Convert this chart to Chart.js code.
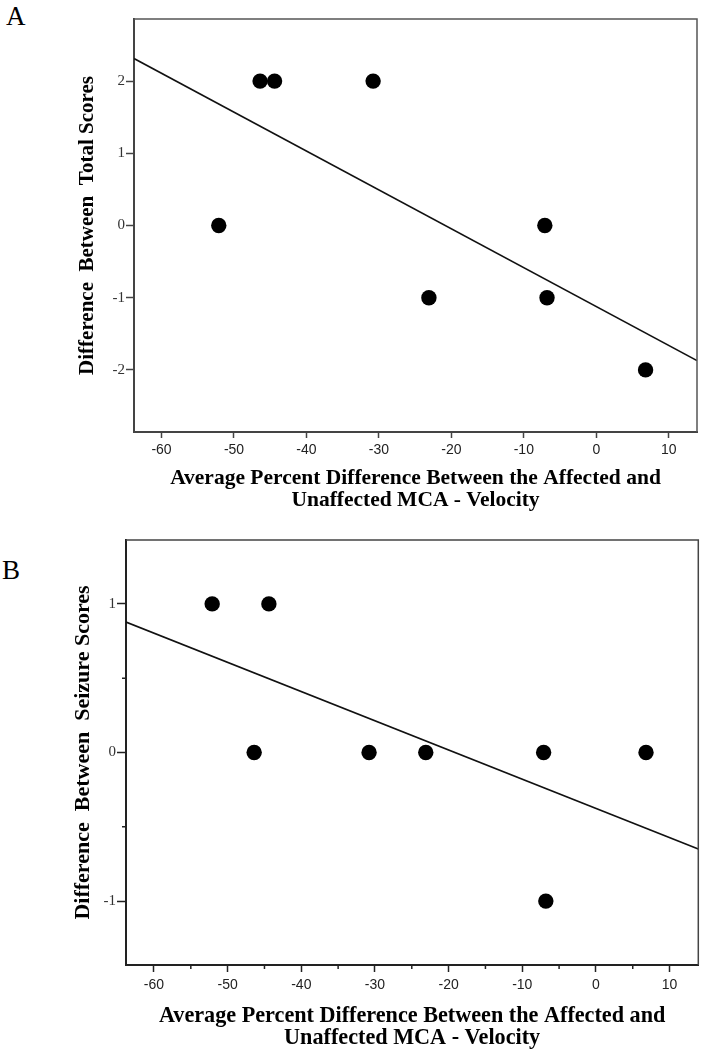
<!DOCTYPE html>
<html><head><meta charset="utf-8">
<script src="https://cdn.jsdelivr.net/npm/chart.js@4/dist/chart.umd.min.js"></script>
<style>
html,body{margin:0;padding:0;background:#fff;}
body{width:706px;height:1050px;position:relative;overflow:hidden;}
.panel{position:absolute;left:0;width:706px;height:520px;}
.lbl{position:absolute;font-family:"Liberation Serif",serif;font-size:27px;color:#000;line-height:1;}
</style></head><body>
<div class="lbl" style="left:6px;top:3px;">A</div>
<div class="lbl" style="left:2px;top:557px;">B</div>
<div class="panel" style="top:0"><canvas id="cA" width="706" height="520"></canvas></div>
<div class="panel" style="top:530px"><canvas id="cB" width="706" height="520"></canvas></div>
<script>
// ---- data ----
const velocityDiff     = [-52.1, -46.4, -44.4, -30.8, -23.1, -7.1, -6.8, 6.8];
const totalScoreDiff   = [0, 2, 2, 2, -1, 0, -1, -2];
const seizureScoreDiff = [1, 0, 1, 0, 0, 0, -1, 0];
const xRange  = [-63.8, 13.9];
const yRangeA = [-2.86, 2.86];
const yRangeB = [-1.43, 1.43];
const xMinorB = [-55, -45, -35, -25, -15, -5, 5];
const yMinorB = [-0.5, 0.5];
const xTitle  = ['Average Percent Difference Between the Affected and', 'Unaffected MCA - Velocity'];
const yTitleA = 'Difference  Between  Total Scores';
const yTitleB = 'Difference  Between  Seizure Scores';

function olsLine(xs, ys, x0, x1) {
  const n = xs.length;
  const mx = xs.reduce((a, b) => a + b, 0) / n;
  const my = ys.reduce((a, b) => a + b, 0) / n;
  let sxy = 0, sxx = 0;
  for (let i = 0; i < n; i++) { sxy += (xs[i] - mx) * (ys[i] - my); sxx += (xs[i] - mx) ** 2; }
  const b = sxy / sxx, a = my - b * mx;
  return [{x: x0, y: a + b * x0}, {x: x1, y: a + b * x1}];
}

const framePlugin = {
  id: 'frame',
  afterDraw(chart, args, opts) {
    const {ctx, chartArea: c} = chart;
    ctx.save();
    ctx.strokeStyle = opts.color; ctx.lineWidth = opts.width;
    ctx.beginPath();
    ctx.moveTo(c.left, c.top); ctx.lineTo(c.right, c.top); ctx.lineTo(c.right, c.bottom);
    ctx.stroke();
    if (opts.minorX) {
      const sx = chart.scales.x, sy = chart.scales.y;
      ctx.strokeStyle = opts.tickColor; ctx.lineWidth = 1.5;
      ctx.beginPath();
      opts.minorX.forEach(v => { const p = sx.getPixelForValue(v); ctx.moveTo(p, c.bottom); ctx.lineTo(p, c.bottom + opts.minorLen); });
      opts.minorY.forEach(v => { const p = sy.getPixelForValue(v); ctx.moveTo(c.left, p); ctx.lineTo(c.left - opts.minorLen, p); });
      ctx.stroke();
    }
    ctx.restore();
  }
};

function makeChart(id, ys, yRange, yTitle, o) {
  const pts = velocityDiff.map((x, i) => ({x, y: ys[i]}));
  return new Chart(document.getElementById(id), {
    type: 'scatter',
    data: {datasets: [
      {data: pts, pointRadius: 7.7, pointHoverRadius: 7.7, backgroundColor: '#000', borderWidth: 0, order: 1},
      {data: olsLine(velocityDiff, ys, xRange[0], xRange[1]), showLine: true, pointRadius: 0,
       borderColor: '#111', borderWidth: 1.6, fill: false, order: 2}
    ]},
    options: {
      responsive: false, animation: false, devicePixelRatio: 1,
      layout: {padding: o.pad},
      plugins: {legend: {display: false}, tooltip: {enabled: false},
        frame: {color: o.frameColor, width: 1.5, minorX: o.minorX, minorY: o.minorY, minorLen: 4, tickColor: o.axisColor}},
      scales: {
        x: {
          type: 'linear', min: xRange[0], max: xRange[1],
          ticks: {stepSize: 10, includeBounds: false, maxRotation: 0, autoSkip: false,
            font: {family: '"Liberation Sans", Arial, sans-serif', size: 14}, color: '#222', padding: o.xTickPad},
          grid: {drawOnChartArea: false, drawTicks: true, tickLength: o.xTickLen, tickColor: o.axisColor, tickWidth: 1.5},
          border: {display: true, color: o.axisColor, width: 2},
          title: {display: true, text: xTitle, color: '#000',
            font: {family: '"Liberation Serif", "Times New Roman", serif', size: o.xTitleSize, weight: 'bold', lineHeight: o.xTitleLH},
            padding: {top: 0, bottom: o.xTitlePadB}},
          afterFit(s) { s.height = o.xHeight; }
        },
        y: {
          type: 'linear', min: yRange[0], max: yRange[1],
          ticks: {stepSize: 1, includeBounds: false, autoSkip: false,
            font: {family: '"Liberation Serif", "Times New Roman", serif', size: 15}, color: '#333', padding: 1},
          grid: {drawOnChartArea: false, drawTicks: true, tickLength: o.yTickLen, tickColor: o.axisColor, tickWidth: 1.5},
          border: {display: true, color: o.axisColor, width: 2},
          title: {display: true, text: yTitle, color: '#000',
            font: {family: '"Liberation Serif", "Times New Roman", serif', size: o.yTitleSize, weight: 'bold', lineHeight: 1.2},
            padding: {top: o.yTitlePadT, bottom: 0}},
          afterFit(s) { s.width = o.yWidth; }
        }
      }
    },
    plugins: [framePlugin]
  });
}

makeChart('cA', totalScoreDiff, yRangeA, yTitleA, {
  pad: {top: 19, right: 9, left: 0, bottom: 0},
  frameColor: '#555', axisColor: '#444', minorX: null, minorY: null,
  xTickPad: 4, xTickLen: 6, yTickLen: 8,
  xTitleSize: 21.5, xTitleLH: 1.0, xTitlePadB: 9, xHeight: 88,
  yTitleSize: 21, yTitlePadT: 75, yWidth: 134
});

makeChart('cB', seizureScoreDiff, yRangeB, yTitleB, {
  pad: {top: 3, right: 1, left: 0, bottom: 0},
  frameColor: '#444', axisColor: '#222', minorX: xMinorB, minorY: yMinorB,
  xTickPad: 5, xTickLen: 7, yTickLen: 9,
  xTitleSize: 22.2, xTitleLH: 0.98, xTitlePadB: 1, xHeight: 85,
  yTitleSize: 22, yTitlePadT: 70, yWidth: 126
});
</script>
</body></html>
